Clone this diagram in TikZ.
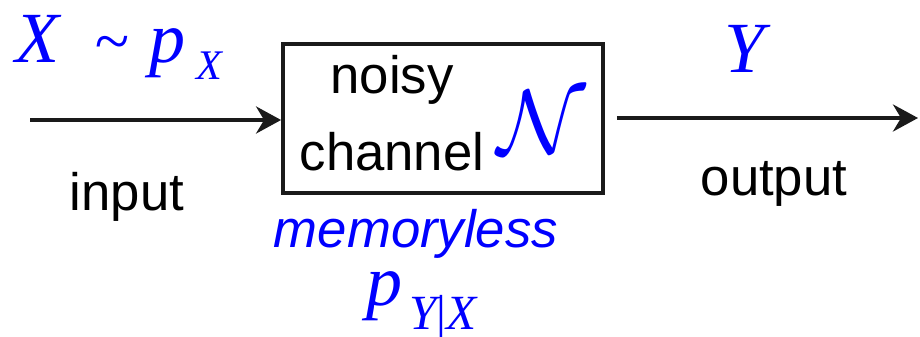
\documentclass[tikz,border=0pt]{standalone}
\usepackage{fix-cm}
\usepackage{fontspec}
\setmainfont{Liberation Sans}
\newfontfamily\tms{Liberation Serif}
\usetikzlibrary{arrows.meta,positioning}
\definecolor{ink}    {HTML}{1A1A1A}
\definecolor{symblue}{HTML}{0000FF}
\newcommand\bigsym{\fontsize{41}{41}\selectfont\tms\itshape}
\newcommand\subsym[2]{{\fontsize{#1}{#1}\selectfont\tms\itshape #2}}
\tikzset{
  chanbox/.style ={draw=ink, line width=2.2pt,
                   minimum width=6.4cm, minimum height=2.98cm, inner sep=0pt},
  flowarr/.style ={-{Stealth[length=5mm,width=5.4mm,inset=1.6mm]},
                   line width=2.2pt, draw=ink},
  wordlbl/.style ={font=\fontsize{30}{30}\selectfont, inner sep=0pt, text=black},
  symlbl/.style  ={text=symblue, inner sep=0pt},
}
\begin{document}
\begin{tikzpicture}[x=0.02cm,y=0.02cm]
    \useasboundingbox (0,0) rectangle (920,336);
    \node[chanbox] (chan) at (443,217.5) {};
    \node[wordlbl,anchor=base] (noisy) at (392,243) {noisy};
    \node[wordlbl,anchor=base] (chnl) at (392,166) {channel};
    \node[symlbl,font=\fontsize{52}{52}\selectfont] (calN) at (542,214) {$\mathcal{N}$};
    \coordinate (inp) at (30,216);
    \coordinate (outp) at (918,218);
    \draw[flowarr] (inp) -- (inp -| chan.west);
    \draw[flowarr,shorten <=0.24cm] (chan.east |- outp) -- (outp);
    \node[wordlbl,anchor=base] (inlbl) at (127,126) {input};
    \node[wordlbl,anchor=base] (outlbl) at (774,141) {output};
    \node[symlbl,anchor=base west] (xdist) at (15,274)
      {\bigsym X\hspace{20pt}{\fontsize{36}{36}\selectfont\textasciitilde}\hspace{12pt}p\hspace{6pt}\raisebox{-10pt}{\subsym{24}{X}}};
    \node[symlbl,anchor=base] (ysym) at (745,264) {\bigsym Y};
    \node[symlbl,font=\fontsize{30}{30}\selectfont\itshape,anchor=base] (mless) at (416,89) {memoryless};
    \node[symlbl,anchor=base west] (pyx) at (366,31)
      {\bigsym p\hspace{4pt}\raisebox{-14pt}{\subsym{28}{Y{\upshape|}X}}};
\end{tikzpicture}
\end{document}
